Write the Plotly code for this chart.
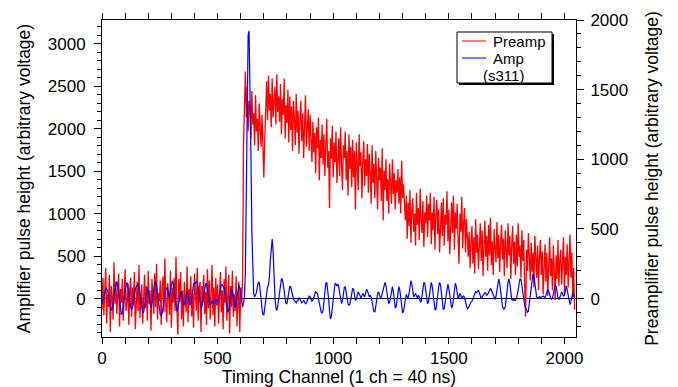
import numpy as np
import plotly.graph_objects as go

# Timing channel (one value every 4 channels)
channel = np.arange(0, 2048, 4)

# Preamplifier pulse height (right axis)
preamp = [
    -80, 150, -120, 60, 220, -180, 30, -60, 170, -240, 90, 10, -150, 260, -40, 120,
    -110, 40, 180, -200, 70, -30, 140, -160, 20, 210, -90, -20, 110, -190, 60, 150,
    -130, 80, -50, 190, -220, 30, 120, -90, 240, -140, 0, 100, -180, 50, 170, -70,
    90, -160, 200, -40, 60, -230, 140, 20, -110, 180, -60, 250, -150, 40, -20, 130,
    -190, 70, 160, -100, 290, -50, -170, 110, 30, -120, 200, -210, 80, -30, 150, -90,
    300, -60, -260, 140, -20, 190, -150, 60, -200, 120, 30, -100, 230, -170, 70, -40,
    160, -130, 40, -210, 180, 0, -90, 220, -160, 60, 120, -240, 90, -30, 170, -110,
    50, -190, 210, -70, 130, -150, 20, 240, -120, 80, -200, 150, -50, 100, -180, 40,
    190, -100, 60, -220, 140, -30, 230, -160, 10, 170, -250, 90, -60, 200, -130, 30,
    -90, 160, -200, 50, 120, -240, 80, -30, 150, 1100, 1450, 1630, 1300, 1520, 1200, 1420,
    1380, 1150, 1490, 1250, 1330, 1100, 1460, 1200, 1290, 1060, 1400, 1180, 1090, 1320, 1010, 870,
    1150, 1330, 1560, 1280, 1600, 1350, 1470, 1230, 1580, 1300, 1420, 1520, 1250, 1610, 1340, 1450,
    1270, 1540, 1180, 1430, 1320, 1580, 1150, 1390, 1260, 1500, 1120, 1450, 1210, 1380, 1060, 1420,
    1300, 1100, 1470, 1190, 1350, 1040, 1280, 1420, 1130, 1330, 1010, 1250, 1460, 1090, 1210, 1360,
    1060, 1320, 1150, 980, 1270, 1050, 1190, 900, 1230, 1080, 1300, 850, 1140, 1010, 1250, 960,
    1180, 880, 1100, 1290, 940, 1060, 650, 1150, 1000, 1240, 870, 1120, 980, 1200, 830, 1070,
    1150, 880, 1230, 960, 780, 1100, 1010, 1200, 850, 1060, 740, 1180, 930, 1090, 800, 1140,
    870, 1060, 640, 1120, 900, 780, 1180, 950, 1050, 720, 990, 1130, 810, 1000, 880, 1110,
    760, 1040, 890, 680, 1100, 830, 970, 720, 1060, 900, 640, 1010, 850, 940, 700, 1080,
    560, 920, 780, 1000, 700, 860, 610, 970, 820, 680, 1000, 750, 900, 640, 850, 760,
    930, 680, 870, 610, 990, 720, 820, 650, 560, 740, 430, 690, 520, 780, 400, 640,
    720, 480, 610, 380, 760, 530, 650, 420, 790, 560, 470, 700, 370, 620, 540, 740,
    440, 680, 560, 760, 390, 620, 490, 730, 350, 600, 710, 460, 640, 330, 580, 690,
    450, 720, 380, 600, 530, 770, 410, 640, 320, 560, 690, 470, 740, 350, 620, 500,
    680, 420, 250, 610, 480, 730, 360, 550, 650, 330, 570, 440, 300, 480, 220, 410,
    520, 250, 440, 180, 570, 330, 460, 210, 380, 540, 270, 490, 160, 420, 560, 300,
    450, 200, 530, 310, 580, 240, 410, 170, 500, 360, 260, 550, 290, 460, 190, 400,
    530, 280, 430, 160, 490, 350, 220, 540, 310, 450, 140, 380, 520, 250, 410, 170,
    460, 230, 540, 300, 380, 150, 490, 270, 420, 90, -130, 350, 200, 470, 280, 130,
    400, 190, 330, 80, 450, 240, 150, 380, 60, 300, 420, 170, 340, 30, 260, 390,
    120, 330, 20, 250, 440, 160, 290, 60, 380, 200, -10, 310, 140, 420, 90, 270,
    350, 100, 240, 440, 30, 300, 170, 390, 80, 260, 460, 150, 330, 0, 220, -80,
]

# Amplifier pulse height (left axis)
amp = [
    -60, -20, 40, 80, 110, 120, 100, 40, -40, -110, -140, -120, -60, 20, 110, 180,
    200, 160, 60, -60, -150, -190, -170, -100, 0, 100, 170, 190, 150, 60, -30, -100,
    -130, -110, -40, 50, 110, 140, 150, 170, 140, 70, -30, -120, -170, -160, -90, 10,
    100, 130, 90, 20, -60, -100, -60, 30, 130, 190, 200, 150, 50, -60, -150, -190,
    -200, -170, -110, -30, 50, 110, 130, 100, 30, 20, 90, 180, 210, 170, 80, -30,
    -120, -150, -120, -50, 30, 80, 60, -10, -70, -80, -40, 30, 80, 60, -20, -80,
    -60, 20, 110, 170, 190, 180, 200, 190, 120, 20, -70, -110, -100, -40, 40, 120,
    170, 180, 130, 40, -40, -80, -60, -20, -40, -70, -50, -10, -20, -40, 0, 60,
    130, 170, 160, 150, 130, 60, -40, -120, -160, -140, -60, 40, 110, 90, 10, -70,
    -110, -60, 40, 130, 160, 120, 30, -60, -100, -50, 20, 300, 1200, 2300, 3100, 3150,
    2600, 1700, 800, 250, 60, 20, 40, 70, 140, 190, 190, 120, 0, -120, -190, -190,
    -110, 0, 90, 140, 160, 250, 450, 650, 700, 560, 250, 20, -110, -140, -90, 10,
    110, 190, 230, 230, 180, 90, 0, -60, -60, 10, 90, 140, 140, 90, 30, -10,
    -20, -40, -50, -30, -20, 10, -10, -30, -50, -40, -20, -40, -60, -50, -20, 10,
    30, 20, -10, -30, -20, 20, 70, 80, 70, 60, 0, -60, -110, -160, -170, -140,
    -30, 100, 180, 190, 120, 0, -150, -240, -210, -100, 30, 130, 180, 170, 150, 170,
    140, 60, -20, -60, -20, 60, 130, 140, 80, -20, -60, -80, -60, -10, 60, 120,
    110, 40, -20, -10, 50, 80, 60, 30, 10, 30, 60, 40, 20, 70, 110, 90,
    40, 20, 40, 20, -40, -110, -150, -160, -110, -20, 60, 80, 40, 10, 20, 70,
    120, 170, 190, 150, 60, -20, -60, -40, 30, 110, 140, 80, -30, -110, -100, -20,
    80, 140, 100, -10, -120, -170, -150, -70, 20, 50, 20, 10, 60, 160, 210, 170,
    90, 20, 40, 60, 30, 10, 40, 20, -30, -40, 30, 120, 190, 180, 100, 0,
    -60, -40, 40, 140, 190, 150, 50, -60, -130, -130, -60, 40, 140, 190, 160, 60,
    -60, -130, -120, -40, 60, 140, 170, 120, 30, -60, -110, -90, 10, 120, 180, 150,
    60, 0, 20, 60, 40, 0, 20, 30, 10, -40, -90, -120, -110, -80, -50, -40,
    -30, 0, 40, 70, 80, 70, 90, 100, 70, 20, 0, 20, 40, 60, 70, 60,
    40, 50, 80, 110, 120, 100, 70, 30, 0, -10, 30, 120, 200, 230, 180, 80,
    -20, -90, -120, -120, -100, -30, 90, 200, 230, 170, 60, -10, -20, -10, -20, -20,
    0, 40, 100, 180, 230, 230, 150, 40, -40, -80, -110, -150, -160, -150, -60, 60,
    180, 260, 290, 260, 170, 80, 20, 10, 10, 20, 10, 20, 20, 30, 20, 10,
    40, 80, 110, 90, 40, 10, -10, 10, 50, 110, 160, 140, 70, 20, -10, 10,
    40, 80, 60, 30, 40, 120, 150, 100, 30, -40, -70, -30, 30, 60, 40, 20,
]

legend_names = ["Preamp", "Amp"]
legend_note = "(s311)"

FONT = "Liberation Sans, Arial, Helvetica, sans-serif"
RED = "#ff0000"
BLUE = "#0000ff"

fig = go.Figure()
fig.add_trace(go.Scatter(x=channel, y=preamp, name=legend_names[0], mode="lines",
                         line=dict(color=RED, width=1.3), yaxis="y", showlegend=False))
fig.add_trace(go.Scatter(x=channel, y=amp, name=legend_names[1], mode="lines",
                         line=dict(color=BLUE, width=1.2), yaxis="y2", showlegend=False))

axis_common = dict(showline=True, linecolor="black", linewidth=1, ticks="outside",
                   tickcolor="black", showgrid=False, automargin=False,
                   tickfont=dict(size=17, color="black"))

fig.update_layout(
    width=678, height=387,
    margin=dict(l=102, r=102, t=20, b=50),
    paper_bgcolor="white", plot_bgcolor="white",
    font=dict(family=FONT, size=17, color="black"),
    showlegend=False,
    xaxis=dict(range=[0, 2050], dtick=500, tick0=0, ticklen=6, mirror="allticks",
               zeroline=False, ticklabelstandoff=0,
               minor=dict(dtick=100, ticklen=4, ticks="outside", tickcolor="black"),
               title=dict(text="Timing Channel (1 ch = 40 ns)", font=dict(size=17.5), standoff=1),
               **axis_common),
    yaxis=dict(range=[-276, 2000], side="right", dtick=500, tick0=0, ticklen=7,
               zeroline=False, ticklabelstandoff=3,
               minor=dict(dtick=100, ticklen=4, ticks="outside", tickcolor="black"),
               title=dict(text="Preamplifier pulse height (arbitrary voltage)", font=dict(size=17.5), standoff=18),
               **axis_common),
    yaxis2=dict(range=[-452, 3278], side="left", overlaying="y", dtick=500, tick0=0, ticklen=7,
                zeroline=True, zerolinecolor="black", zerolinewidth=1, ticklabelstandoff=5,
                minor=dict(dtick=100, ticklen=4, ticks="outside", tickcolor="black"),
                title=dict(text="Amplifier pulse height (arbitrary voltage)", font=dict(size=17.5), standoff=12),
                **axis_common),
)

# Legend box drawn as shapes + text
def px_x(px):
    return (px - 102) / 474.0

def px_y(py):
    return (337 - py) / 317.0

shapes = [
    dict(type="rect", xref="paper", yref="paper", x0=px_x(459), x1=px_x(554), y0=px_y(85), y1=px_y(34),
         fillcolor="black", line=dict(width=0), layer="above"),
    dict(type="rect", xref="paper", yref="paper", x0=px_x(457), x1=px_x(552), y0=px_y(83), y1=px_y(32),
         fillcolor="white", line=dict(color="black", width=1), layer="above"),
    dict(type="line", xref="paper", yref="paper", x0=px_x(462), x1=px_x(486), y0=px_y(41), y1=px_y(41),
         line=dict(color=RED, width=1), layer="above"),
    dict(type="line", xref="paper", yref="paper", x0=px_x(462), x1=px_x(486), y0=px_y(58), y1=px_y(58),
         line=dict(color=BLUE, width=1), layer="above"),
]
fig.update_layout(shapes=shapes)

for txt, xp, yp in [(legend_names[0], 492, 41), (legend_names[1], 492, 58), (legend_note, 482, 75)]:
    fig.add_annotation(text=txt, xref="paper", yref="paper", x=px_x(xp), y=px_y(yp),
                       xanchor="left", yanchor="middle", showarrow=False,
                       font=dict(family=FONT, size=15, color="black"), borderpad=0)

fig.write_html("out.html")
